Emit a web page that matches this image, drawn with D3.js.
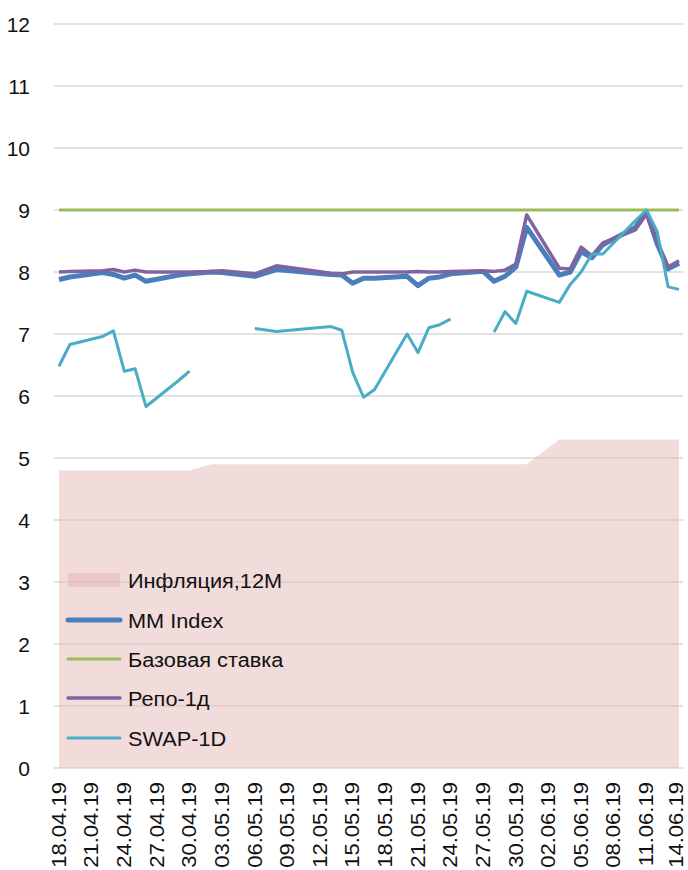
<!DOCTYPE html>
<html>
<head>
<meta charset="utf-8">
<script src="https://cdn.jsdelivr.net/npm/d3@7"></script>
<style>
  body { margin: 0; background: #fff; }
  text { font-family: "Liberation Sans", Arial, sans-serif; fill: #111; }
</style>
</head>
<body>
<svg width="688" height="870"></svg>
<script>
// business days that have data
var dates = ["18.04.19","19.04.19","22.04.19","23.04.19","24.04.19","25.04.19","26.04.19","29.04.19","30.04.19",
             "02.05.19","03.05.19","06.05.19","08.05.19","13.05.19","14.05.19","15.05.19","16.05.19","17.05.19",
             "20.05.19","21.05.19","22.05.19","23.05.19","24.05.19","27.05.19","28.05.19","29.05.19","30.05.19","31.05.19",
             "03.06.19","04.06.19","05.06.19","06.06.19","07.06.19","10.06.19","11.06.19","12.06.19","13.06.19","14.06.19"];

var inflation = [4.8,4.8,4.8,4.8,4.8,4.8,4.8,4.8,4.8,
                 4.9,4.9,4.9,4.9,4.9,4.9,4.9,4.9,4.9,
                 4.9,4.9,4.9,4.9,4.9,4.9,4.9,4.9,4.9,4.9,
                 5.3,5.3,5.3,5.3,5.3,5.3,5.3,5.3,5.3,5.3];

var mmIndex = [7.88,7.92,7.99,7.96,7.90,7.95,7.85,7.95,7.97,
               8.00,7.99,7.93,8.04,7.96,7.95,7.82,7.90,7.90,
               7.93,7.78,7.90,7.92,7.97,8.01,7.85,7.93,8.08,8.72,
               7.95,8.00,8.33,8.23,8.44,8.72,8.98,8.45,8.05,8.14];

var baseRate = [9,9,9,9,9,9,9,9,9,
                9,9,9,9,9,9,9,9,9,
                9,9,9,9,9,9,9,9,9,9,
                9,9,9,9,9,9,9,9,9,9];

var repo1d = [8.00,8.01,8.02,8.04,8.00,8.03,8.00,8.00,8.00,
              8.01,8.02,7.97,8.10,7.98,7.97,8.00,8.00,8.00,
              8.00,8.01,8.00,8.00,8.01,8.02,8.01,8.03,8.13,8.92,
              8.06,8.05,8.40,8.26,8.47,8.68,8.93,8.50,8.08,8.18];

var swap1d = [6.48,6.83,6.96,7.05,6.40,6.44,5.83,6.25,6.40,
              null,null,7.09,7.04,7.12,7.06,6.38,5.98,6.10,
              7.00,6.70,7.10,7.15,7.24,null,7.03,7.36,7.17,7.69,
              7.51,7.80,8.00,8.29,8.29,8.83,9.00,8.65,7.76,7.72];

var yTicks = [0,1,2,3,4,5,6,7,8,9,10,11,12];

var seriesNames = ["Инфляция,12M","MM Index","Базовая ставка","Репо-1д","SWAP-1D"];

var svg = d3.select("svg");
var parse = d3.utcParse("%d.%m.%y");
var fmt = d3.utcFormat("%d.%m.%y");
var days = dates.map(parse);

var x = d3.scaleUtc()
    .domain([days[0], days[days.length - 1]])
    .range([59, 679]);

var y = d3.scaleLinear()
    .domain([0, 12])
    .range([768, 24]);

// gridlines
svg.append("g")
  .selectAll("line")
  .data(yTicks)
  .enter().append("line")
    .attr("x1", 54).attr("x2", 683)
    .attr("y1", function(d) { return y(d); })
    .attr("y2", function(d) { return y(d); })
    .attr("stroke", "#d9d9d9")
    .attr("stroke-width", 1.3);

svg.append("g")
  .selectAll("text")
  .data(yTicks)
  .enter().append("text")
    .attr("x", 30)
    .attr("y", function(d) { return y(d); })
    .attr("dy", "0.36em")
    .attr("text-anchor", "end")
    .style("font-size", "21px")
    .text(function(d) { return d; });

// x tick labels every 3 days (last one kept inside the page)
var xTicks = d3.utcDay.range(days[0], d3.utcDay.offset(days[days.length - 1], 1), 3);
svg.append("g")
  .selectAll("text")
  .data(xTicks)
  .enter().append("text")
    .attr("transform", function(d) { return "translate(" + Math.min(x(d), 676) + ",782) rotate(-90) scale(1.05,1)"; })
    .attr("dy", "0.32em")
    .attr("text-anchor", "end")
    .style("font-size", "21px")
    .text(function(d) { return fmt(d); });

// inflation area
var area = d3.area()
    .x(function(d, i) { return x(days[i]); })
    .y0(y(0))
    .y1(function(d) { return y(d); });

svg.append("path")
    .datum(inflation)
    .attr("d", area)
    .attr("fill", "#e6b8b7")
    .attr("fill-opacity", 0.5);

var line = d3.line()
    .defined(function(d) { return d != null; })
    .x(function(d, i) { return x(days[i]); })
    .y(function(d) { return y(d); });

var lines = [
  { values: mmIndex, color: "#4a7ebb", width: 5 },
  { values: baseRate, color: "#9bbb59", width: 3 },
  { values: repo1d, color: "#8064a2", width: 3.5 },
  { values: swap1d, color: "#4bacc6", width: 3 }
];

lines.forEach(function(s) {
  svg.append("path")
      .datum(s.values)
      .attr("d", line)
      .attr("fill", "none")
      .attr("stroke", s.color)
      .attr("stroke-width", s.width)
      .attr("stroke-linejoin", "round");
});

// legend
var legend = svg.append("g");
var legendY = [580, 620, 659, 698, 738];

legend.append("rect")
    .attr("x", 68).attr("y", legendY[0] - 7)
    .attr("width", 52).attr("height", 14)
    .attr("fill", "#e6b8b7")
    .attr("fill-opacity", 0.5);

lines.forEach(function(s, i) {
  legend.append("line")
      .attr("x1", 68).attr("x2", 120)
      .attr("y1", legendY[i + 1]).attr("y2", legendY[i + 1])
      .attr("stroke", s.color)
      .attr("stroke-width", s.width)
      .attr("stroke-linecap", "round");
});

legend.selectAll("text")
  .data(seriesNames)
  .enter().append("text")
    .attr("transform", function(d, i) { return "translate(128," + legendY[i] + ") scale(1.035,1)"; })
    .attr("dy", "0.36em")
    .style("font-size", "21px")
    .text(function(d) { return d; });
</script>
</body>
</html>
